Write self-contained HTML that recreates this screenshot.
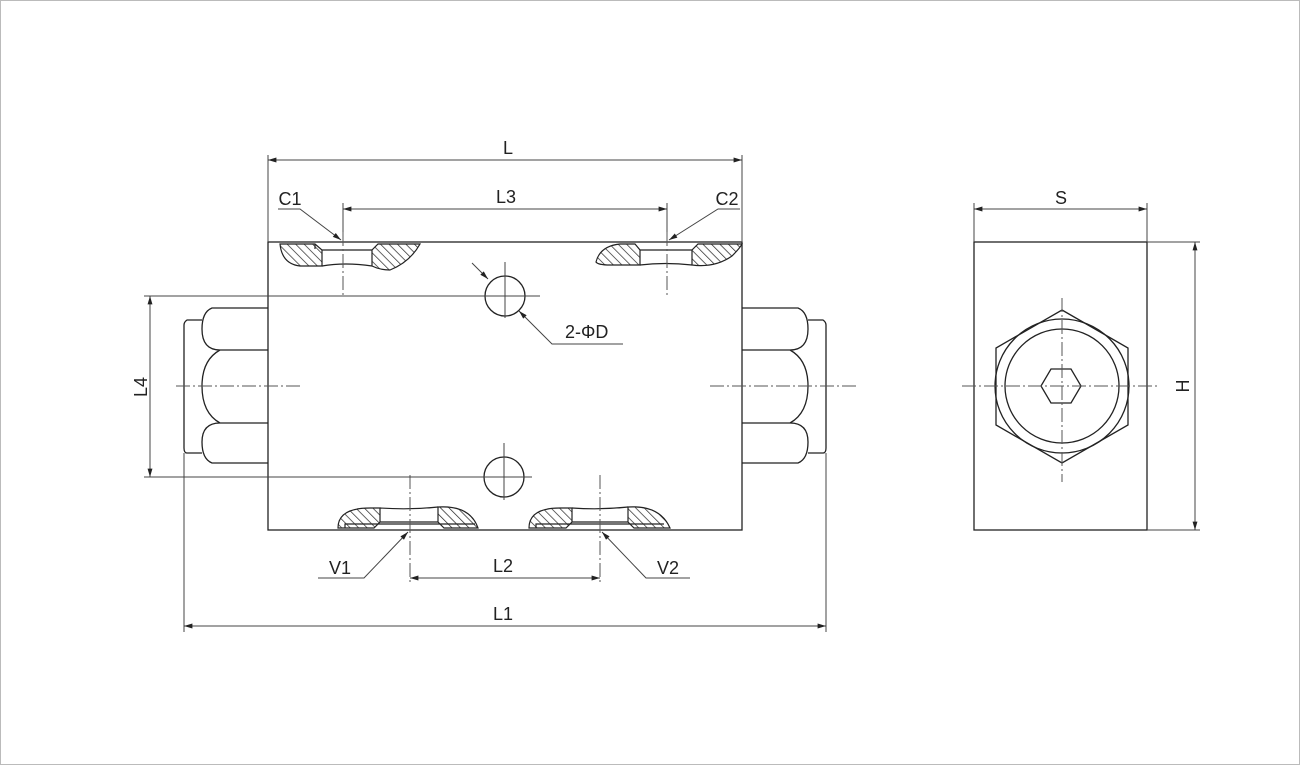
<!DOCTYPE html>
<html><head><meta charset="utf-8"><style>
html,body{margin:0;padding:0;background:#fff}
svg{display:block}
text{font-family:"Liberation Sans",sans-serif;font-size:18px;fill:#222}
</style></head><body>
<svg width="1300" height="765" viewBox="0 0 1300 765" xmlns="http://www.w3.org/2000/svg">
<defs>
<pattern id="h" width="6" height="6" patternUnits="userSpaceOnUse" patternTransform="rotate(-45)">
<rect width="6" height="6" fill="#fff"/><line x1="0" y1="0" x2="0" y2="6" stroke="#222" stroke-width="1.4"/>
</pattern>
<marker id="a" viewBox="0 0 12 10" refX="12" refY="5" markerWidth="12" markerHeight="7" orient="auto-start-reverse" markerUnits="userSpaceOnUse"><path d="M0,1.5 L12,5 L0,8.5z" fill="#222"/></marker>
</defs>
<rect x="0.5" y="0.5" width="1299" height="764" fill="#fff" stroke="#bbb"/>
<g fill="none" stroke="#222" stroke-width="1.3">
<rect x="268" y="242" width="474" height="288"/>
<path d="M268,308 H212 Q202,312 202,329 Q202,350 220,350 H268 M220,350 Q202,360 202,386 Q202,413 220,423 H268 M220,423 Q202,423 202,442 Q202,459 212,463 H268"/>
<path d="M202,320 H187 Q184,322 184,325 V448 Q184,453 187,453 H202"/>
<path d="M742,308 H798 Q808,312 808,329 Q808,350 790,350 H742 M790,350 Q808,360 808,386 Q808,413 790,423 H742 M790,423 Q808,423 808,442 Q808,459 798,463 H742"/>
<path d="M808,320 H823 Q826,322 826,325 V448 Q826,453 823,453 H808"/>
<circle cx="505" cy="296" r="20"/>
<circle cx="504" cy="477" r="20"/>
<rect x="974" y="242" width="173" height="288"/>
<polygon points="1062,310 1128,348 1128,425 1062,463 996,425 996,348"/>
<circle cx="1062" cy="386" r="67"/>
<circle cx="1062" cy="386" r="57"/>
<polygon points="1041,386 1051,369 1071,369 1081,386 1071,403 1051,403"/>
</g>
<g stroke="#222" stroke-width="1.2">
<path d="M280,244 Q282,264 300,266 L322,266 L322,250 L315,244 Z" fill="url(#h)"/>
<path d="M372,266 L372,250 L378,244 L420,244 Q410,262 390,270 Q380,270 372,266 Z" fill="url(#h)"/>
<path d="M322,250 H372 M315,244 V249 M322,266 Q345,262 372,266" fill="none"/>
<path d="M596,262 Q600,246 620,244 L635,244 L640,250 L640,265 L610,265 Q598,265 596,262 Z" fill="url(#h)"/>
<path d="M692,250 L692,265 Q715,268 732,256 Q740,248 742,244 L698,244 Z" fill="url(#h)"/>
<path d="M640,250 H692 M640,265 Q665,262 692,265" fill="none"/>
<path d="M338,528 Q338,508 370,508 L380,508 L380,522 L374,528 Z" fill="url(#h)"/>
<path d="M438,522 L438,507 Q470,505 478,528 L444,528 Z" fill="url(#h)"/>
<path d="M380,508 Q410,510 438,507 M380,522 H438 M345,528 V524 H475" fill="none"/>
<path d="M529,528 Q529,508 560,508 L572,508 L572,522 L566,528 Z" fill="url(#h)"/>
<path d="M628,522 L628,507 Q660,505 670,528 L634,528 Z" fill="url(#h)"/>
<path d="M572,508 Q600,510 628,507 M572,522 H628 M536,528 V524 H664" fill="none"/>
</g>
<g stroke="#555" stroke-width="1" stroke-dasharray="14,3,2,3" fill="none">
<line x1="343" y1="232" x2="343" y2="298"/>
<line x1="667" y1="232" x2="667" y2="298"/>
<line x1="410" y1="475" x2="410" y2="582"/>
<line x1="600" y1="475" x2="600" y2="582"/>
<line x1="176" y1="386" x2="300" y2="386"/>
<line x1="710" y1="386" x2="858" y2="386"/>
<line x1="962" y1="386" x2="1160" y2="386"/>
<line x1="1062" y1="298" x2="1062" y2="482"/>
</g>
<g stroke="#444" stroke-width="1" fill="none">
<line x1="475" y1="296" x2="540" y2="296"/><line x1="505" y1="262" x2="505" y2="318"/>
<line x1="474" y1="477" x2="532" y2="477"/><line x1="504" y1="443" x2="504" y2="500"/>
<line x1="268" y1="155" x2="268" y2="242"/><line x1="742" y1="155" x2="742" y2="242"/>
<line x1="343" y1="203" x2="343" y2="232"/><line x1="667" y1="203" x2="667" y2="232"/>
<line x1="974" y1="203" x2="974" y2="242"/><line x1="1147" y1="203" x2="1147" y2="242"/>
<line x1="1147" y1="242" x2="1200" y2="242"/><line x1="1147" y1="530" x2="1200" y2="530"/>
<line x1="144" y1="296" x2="485" y2="296"/><line x1="144" y1="477" x2="484" y2="477"/>
<line x1="184" y1="453" x2="184" y2="632"/><line x1="826" y1="453" x2="826" y2="632"/>
<path d="M278,209 H300 L341,240" marker-end="url(#a)"/>
<path d="M740,209 H718 L669,240" marker-end="url(#a)"/>
<path d="M318,578 H364 L408,532" marker-end="url(#a)"/>
<path d="M690,578 H646 L602,532" marker-end="url(#a)"/>
<path d="M472,263 L488,279" marker-end="url(#a)"/>
<path d="M623,344 H552 L519,311" marker-end="url(#a)"/>
</g>
<g stroke="#444" stroke-width="1" fill="none" marker-start="url(#a)" marker-end="url(#a)">
<line x1="268" y1="160" x2="742" y2="160"/>
<line x1="343" y1="209" x2="667" y2="209"/>
<line x1="974" y1="209" x2="1147" y2="209"/>
<line x1="1195" y1="242" x2="1195" y2="530"/>
<line x1="150" y1="296" x2="150" y2="477"/>
<line x1="410" y1="578" x2="600" y2="578"/>
<line x1="184" y1="626" x2="826" y2="626"/>
</g>
<text x="508" y="154" text-anchor="middle">L</text>
<text x="506" y="203" text-anchor="middle">L3</text>
<text x="290" y="205" text-anchor="middle">C1</text>
<text x="727" y="205" text-anchor="middle">C2</text>
<text x="1061" y="204" text-anchor="middle">S</text>
<text x="565" y="338">2-ΦD</text>
<text x="340" y="574" text-anchor="middle">V1</text>
<text x="668" y="574" text-anchor="middle">V2</text>
<text x="503" y="572" text-anchor="middle">L2</text>
<text x="503" y="620" text-anchor="middle">L1</text>
<text transform="translate(147,387) rotate(-90)" text-anchor="middle">L4</text>
<text transform="translate(1189,386) rotate(-90)" text-anchor="middle">H</text>
</svg>
</body></html>
